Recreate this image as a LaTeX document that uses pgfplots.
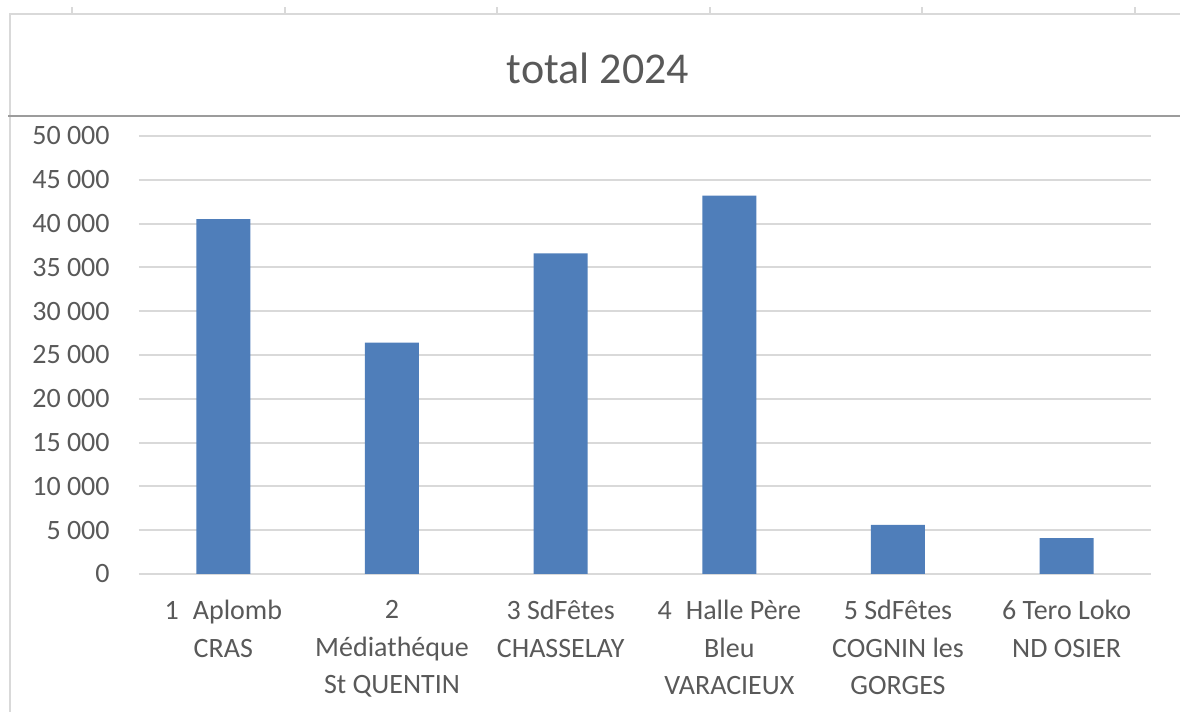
\documentclass[border=0pt]{standalone}
\usepackage{fontspec}
\setmainfont{Carlito}
\usepackage{pgfplots}
\pgfplotsset{compat=1.18}
\definecolor{barblue}{HTML}{4F7EBA}
\definecolor{txt}{HTML}{595959}
\definecolor{gridc}{HTML}{D9D9D9}
\definecolor{framec}{HTML}{D9D9D9}
\definecolor{darkline}{HTML}{9C9C9C}
\begin{document}
\begin{tikzpicture}[x=1pt,y=1pt]
\path[use as bounding box] (0,0) rectangle (590,356);
\draw[framec, line width=1pt] (5,0) -- (5,349) -- (590,349);
\foreach \x in {36,142.5,248.5,355,461,567.5} \draw[framec, line width=1pt] (\x,349) -- (\x,352.5);
\draw[darkline, line width=1.3pt] (4,298) -- (590,298);
\node[txt, font=\fontsize{22}{26}\selectfont] at (299,322) {total 2024};
\begin{axis}[
  at={(69.5pt,69pt)}, anchor=south west,
  scale only axis, width=506pt, height=219pt,
  xmin=-0.5, xmax=5.5, ymin=0, ymax=50000,
  scaled y ticks=false,
  axis line style={draw=none},
  major tick length=0pt,
  ymajorgrids, grid style={gridc, line width=1pt},
  ytick={0,5000,10000,15000,20000,25000,30000,35000,40000,45000,50000},
  yticklabels={0,5 000,10 000,15 000,20 000,25 000,30 000,35 000,40 000,45 000,50 000},
  yticklabel style={txt, font=\fontsize{14}{16}\selectfont, anchor=east, inner sep=0pt, xshift=-14.5pt},
  xtick={0,1,2,3,4,5},
  xticklabels={{1\enspace Aplomb\\CRAS},{2\\Médiathéque\\St QUENTIN},{3 SdFêtes\\CHASSELAY},{4\enspace Halle Père\\Bleu\\VARACIEUX},{5 SdFêtes\\COGNIN les\\GORGES},{6 Tero Loko\\ND OSIER}},
  xticklabel style={txt, font=\fontsize{14}{18.75}\selectfont, align=center, anchor=north, inner sep=0pt, yshift=-13pt},
  ybar, bar width=27pt,
]
\addplot[fill=barblue, draw=none] coordinates {(0,40500) (1,26400) (2,36600) (3,43200) (4,5600) (5,4100)};
\end{axis}
\end{tikzpicture}
\end{document}
